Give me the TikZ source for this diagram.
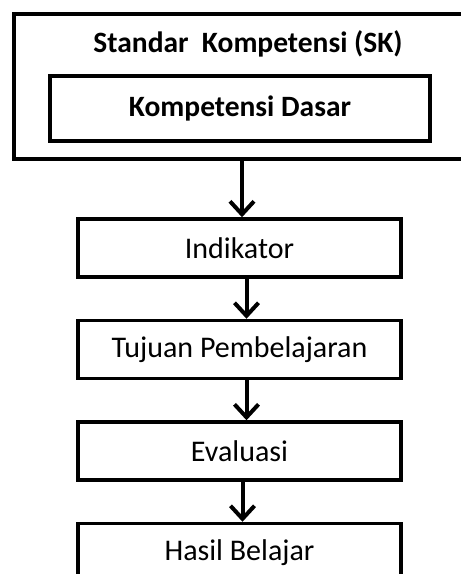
\documentclass[tikz,border=0pt]{standalone}
\usepackage{fontspec}
\setmainfont{Carlito}
\usetikzlibrary{arrows.meta, positioning}

\begin{document}
\begin{tikzpicture}[
    x=1pt, y=1pt,
    node distance=40pt,
    outer/.style={draw, line width=4pt, minimum width=456pt, minimum height=145pt},
    inner/.style={draw, line width=4pt, minimum width=380pt, minimum height=65pt, font=\fontsize{29.5}{35}\selectfont\bfseries},
    title/.style={font=\fontsize{29.5}{35}\selectfont\bfseries},
    box/.style={draw, line width=3.5pt, minimum width=323pt, minimum height=58pt, font=\fontsize{30}{36}\selectfont},
    arr/.style={-{Straight Barb[length=13pt, width=24pt]}, line width=4pt}
]
\clip (0,0) rectangle (461,-574);
\node[outer] (sk) at (242,-86.5) {};
\node[title] (sktitle) at (248,-44) {Standar\ \ Kompetensi (SK)};
\node[inner] (kd) at (240,-108.5) {Kompetensi Dasar};
\node[box] (ind) at (239.5,-248) {Indikator};
\node[box, below=of ind] (tujuan) {Tujuan Pembelajaran};
\node[box, below=of tujuan] (eval) {Evaluasi};
\node[box, below=of eval] (hasil) {Hasil Belajar};

\draw[arr] (sk.south) -- (sk.south |- ind.north);
\draw[arr] ([xshift=7pt]ind.south) -- ([xshift=7pt]tujuan.north);
\draw[arr] ([xshift=7pt]tujuan.south) -- ([xshift=7pt]eval.north);
\draw[arr] ([xshift=3pt]eval.south) -- ([xshift=3pt]hasil.north);
\end{tikzpicture}
\end{document}
